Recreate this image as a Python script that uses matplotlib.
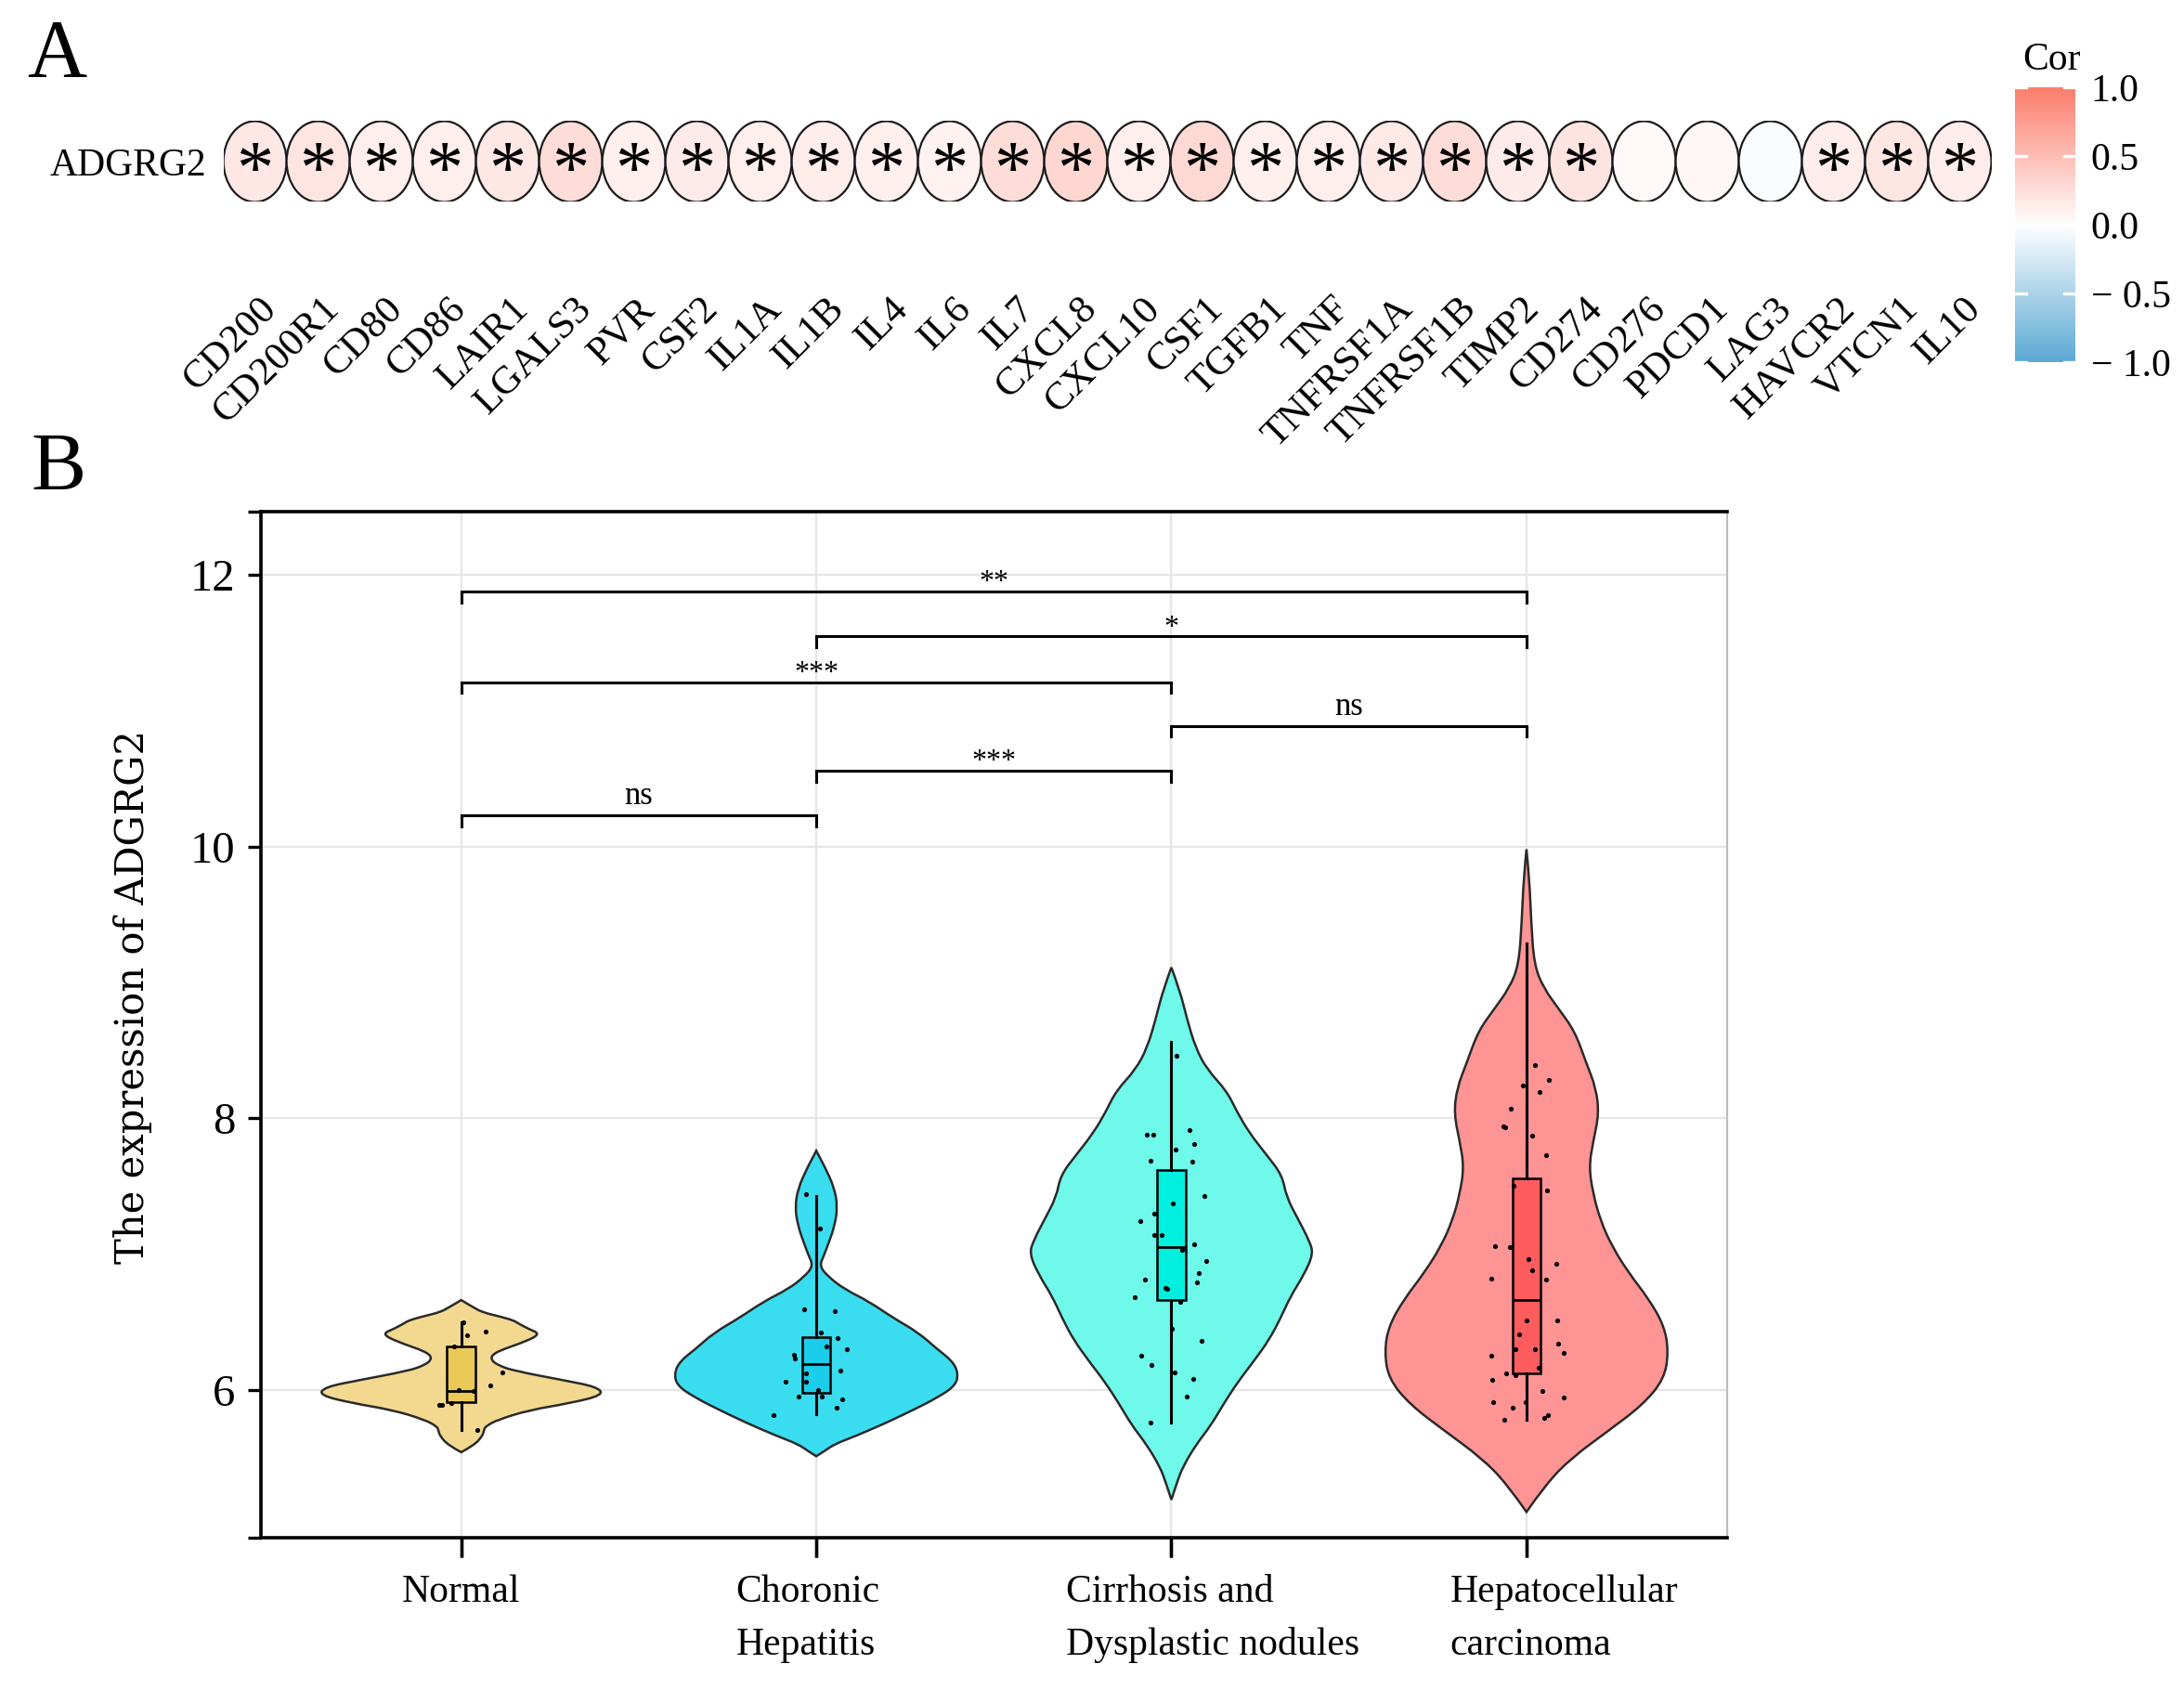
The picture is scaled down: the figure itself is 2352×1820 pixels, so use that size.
import numpy as np
import matplotlib
matplotlib.use("Agg")
import matplotlib.pyplot as plt
from matplotlib.patches import Ellipse, PathPatch
from matplotlib.path import Path
from matplotlib.colors import LinearSegmentedColormap, Normalize

# ---------------- Panel A data ----------------
genes = ["CD200", "CD200R1", "CD80", "CD86", "LAIR1", "LGALS3", "PVR", "CSF2", "IL1A",
         "IL1B", "IL4", "IL6", "IL7", "CXCL8", "CXCL10", "CSF1", "TGFB1", "TNF",
         "TNFRSF1A", "TNFRSF1B", "TIMP2", "CD274", "CD276", "PDCD1", "LAG3", "HAVCR2",
         "VTCN1", "IL10"]
cor_values = [0.18, 0.20, 0.13, 0.13, 0.18, 0.27, 0.12, 0.15, 0.13,
              0.14, 0.12, 0.10, 0.27, 0.31, 0.13, 0.29, 0.12, 0.13,
              0.17, 0.26, 0.15, 0.21, 0.04, 0.06, -0.03, 0.14,
              0.19, 0.14]
cor_signif = [True] * 22 + [False, False, False] + [True, True, True]
row_gene = "ADGRG2"
cbar_ticks = [1.0, 0.5, 0.0, -0.5, -1.0]
cbar_labels = ["1.0", "0.5", "0.0", "\u2212 0.5", "\u2212 1.0"]

# ---------------- Panel B data ----------------
group_labels = ["Normal", "Choronic\nHepatitis", "Cirrhosis and\nDysplastic nodules",
                "Hepatocellular\ncarcinoma"]

normal_dens_y = [5.54, 5.59, 5.66, 5.70, 5.73, 5.78, 5.85, 5.90, 5.96, 6.02, 6.07, 6.14,
                 6.18, 6.22, 6.26, 6.30, 6.35, 6.41, 6.45, 6.49, 6.51, 6.54, 6.57, 6.61, 6.66]
normal_dens = [0.0, 0.09, 0.15, 0.16, 0.17, 0.26, 0.48, 0.76, 1.0, 0.96, 0.72, 0.37,
               0.26, 0.21, 0.22, 0.30, 0.44, 0.56, 0.47, 0.40, 0.37, 0.27, 0.15, 0.08, 0.0]

chronic_dens_y = [5.51, 5.55, 5.60, 5.66, 5.76, 5.85, 5.94, 6.03, 6.12, 6.21, 6.30, 6.42,
                  6.53, 6.65, 6.74, 6.83, 6.91, 6.99, 7.08, 7.21, 7.35, 7.49, 7.63, 7.70, 7.76]
chronic_dens = [0.0, 0.06, 0.13, 0.28, 0.50, 0.68, 0.85, 0.98, 1.0, 0.96, 0.85, 0.72,
                0.54, 0.37, 0.20, 0.087, 0.022, 0.054, 0.087, 0.13, 0.15, 0.126, 0.065, 0.03, 0.0]

cirrhosis_dens_y = [5.19, 5.32, 5.43, 5.59, 5.74, 5.90, 6.06, 6.21, 6.37, 6.53, 6.69, 6.84,
                    7.00, 7.10, 7.26, 7.42, 7.58, 7.73, 7.89, 8.05, 8.20, 8.36, 8.52, 8.73,
                    8.94, 9.11]
cirrhosis_dens = [0.0, 0.04, 0.08, 0.17, 0.28, 0.37, 0.47, 0.58, 0.69, 0.77, 0.84, 0.93,
                  1.0, 0.97, 0.89, 0.81, 0.78, 0.67, 0.55, 0.46, 0.39, 0.25, 0.17, 0.11,
                  0.06, 0.0]

hcc_dens_y = [5.10, 5.31, 5.50, 5.70, 5.89, 6.08, 6.28, 6.47, 6.67, 6.86, 7.06, 7.25,
              7.44, 7.64, 7.83, 8.03, 8.22, 8.41, 8.64, 8.80, 8.96, 9.13, 9.45, 9.77, 9.98]
hcc_dens = [0.0, 0.14, 0.32, 0.58, 0.82, 0.97, 1.0, 0.97, 0.86, 0.72, 0.60, 0.52,
            0.47, 0.44, 0.47, 0.51, 0.49, 0.42, 0.34, 0.23, 0.12, 0.054, 0.033, 0.02, 0.0]

# box statistics: whisker low, q1, median, q3, whisker high
normal_box = [5.70, 5.91, 5.99, 6.32, 6.50]
chronic_box = [5.82, 5.98, 6.19, 6.39, 7.43]
cirrhosis_box = [5.76, 6.66, 7.05, 7.62, 8.56]
hcc_box = [5.78, 6.12, 6.66, 7.56, 9.29]

# jittered points: values and horizontal jitter
normal_pts = [6.50, 6.40, 6.43, 6.32, 6.13, 6.03, 6.00, 5.99, 5.89, 5.89, 5.90, 5.70]
normal_jit = [0.007, 0.017, 0.07, -0.019, 0.115, 0.083, -0.007, 0.035, -0.061, -0.055, -0.029, 0.045]

chronic_pts = [7.44, 7.19, 6.59, 6.58, 6.42, 6.38, 6.30, 6.32, 6.26, 6.23, 6.14, 6.12,
               6.06, 6.06, 6.00, 5.95, 5.95, 5.93, 5.87, 5.81]
chronic_jit = [-0.030, 0.010, -0.034, 0.051, 0.012, 0.061, 0.085, 0.028, -0.064, -0.061,
               0.068, -0.030, -0.087, -0.030, 0.004, -0.051, 0.015, 0.073, 0.057, -0.120]

cirrhosis_pts = [8.46, 7.88, 7.88, 7.91, 7.81, 7.77, 7.69, 7.68, 7.43, 7.37, 7.30, 7.24,
                 7.14, 7.14, 7.07, 7.03, 6.95, 6.86, 6.81, 6.79, 6.75, 6.74, 6.68, 6.65,
                 6.45, 6.36, 6.25, 6.18, 6.13, 6.08, 5.95, 5.76]
cirrhosis_jit = [0.014, -0.070, -0.050, 0.050, 0.064, 0.012, -0.059, 0.060, 0.092, 0.004,
                 -0.049, -0.088, -0.048, -0.028, 0.065, 0.031, 0.098, 0.078, -0.074, 0.072,
                 -0.017, -0.013, -0.104, 0.024, 0.001, 0.085, -0.084, -0.055, 0.008, 0.062,
                 0.043, -0.058]

hcc_pts = [8.39, 8.28, 8.24, 8.19, 8.07, 7.94, 7.93, 7.87, 7.73, 7.47, 7.50, 7.06, 7.05,
           6.96, 6.93, 6.88, 6.82, 6.81, 6.51, 6.51, 6.41, 6.34, 6.30, 6.30, 6.27, 6.25,
           6.16, 6.12, 6.11, 6.07, 5.99, 5.94, 5.91, 5.87, 5.91, 5.81, 5.79, 5.78]
hcc_jit = [0.023, 0.062, -0.010, 0.037, -0.043, -0.064, -0.061, 0.017, 0.055, 0.057, -0.037,
           -0.089, -0.048, 0.005, 0.085, 0.017, -0.099, 0.054, 0.087, 0.001, -0.020, 0.089,
           -0.031, 0.023, 0.105, -0.098, 0.033, -0.058, -0.031, -0.096, 0.045, 0.105, -0.095,
           -0.039, -0.003, 0.060, 0.051, -0.063]

# significance brackets: group a, group b, height, label
brackets = [(1, 2, 10.23, "ns"), (2, 3, 10.56, "***"), (3, 4, 10.89, "ns"),
            (1, 3, 11.21, "***"), (2, 4, 11.55, "*"), (1, 4, 11.88, "**")]

violin_fill = ["#F3D98F", "#3ADDF0", "#6EF9EA", "#FF9494"]
box_fill = ["#EBC956", "#1ACDEB", "#00F0E0", "#FF5C5E"]

SERIF = ["Liberation Serif", "DejaVu Serif"]
plt.rcParams["font.family"] = SERIF

fig = plt.figure(figsize=(11.76, 9.10), dpi=200)

# ---------------- Panel A ----------------
cmap = LinearSegmentedColormap.from_list("cor", ["#5BA9D5", "#FFFFFF", "#FB7D6C"])
norm = Normalize(-1, 1)

ax_h = fig.add_axes([0.1023, 0.8805, 0.8095, 0.0478])
ax_h.set_xlim(0.5, len(genes) + 0.5)
ax_h.set_ylim(0.5, 1.5)
for i, (g, v, s) in enumerate(zip(genes, cor_values, cor_signif), start=1):
    ax_h.add_patch(Ellipse((i, 1), 1.0, 1.0, facecolor=cmap(norm(v)),
                           edgecolor="#1a1a1a", lw=0.8))
    if s:
        ax_h.text(i, 0.62, "*", ha="center", va="baseline", fontsize=29,
                  family=SERIF)
    ax_h.text(i + 0.05, -0.60, g, rotation=45, ha="right", va="top",
              rotation_mode="anchor", fontsize=15.5, clip_on=False)
for sp in ax_h.spines.values():
    sp.set_visible(False)
ax_h.set_xticks([])
ax_h.set_yticks([1])
ax_h.set_yticklabels([row_gene], fontsize=15)
ax_h.tick_params(axis="y", length=0, pad=6.5)

# colorbar
ax_cb = fig.add_axes([0.9226, 0.7857, 0.0276, 0.1624])
grad = np.linspace(-1, 1, 256)[:, None]
ax_cb.imshow(grad, aspect="auto", cmap=cmap, norm=norm, extent=[0, 1, -1, 1],
             origin="lower")
ax_cb.set_xlim(0, 1)
ax_cb.set_ylim(-1, 1)
for t in cbar_ticks:
    ax_cb.plot([0, 0.18], [t, t], color="white", lw=1.2)
    ax_cb.plot([0.82, 1], [t, t], color="white", lw=1.2)
for sp in ax_cb.spines.values():
    sp.set_visible(False)
ax_cb.set_xticks([])
ax_cb.yaxis.tick_right()
ax_cb.set_yticks(cbar_ticks)
ax_cb.set_yticklabels(cbar_labels, fontsize=15)
ax_cb.tick_params(axis="y", length=0, pad=6)
fig.text(0.9396, 0.9646, "Cor", ha="center", va="center", fontsize=15)

fig.text(0.026, 0.967, "A", ha="center", va="center", fontsize=32)
fig.text(0.0268, 0.7225, "B", ha="center", va="center", fontsize=32)

# ---------------- Panel B ----------------
ax = fig.add_axes([0.1193, 0.0901, 0.6715, 0.6074])
ax.set_xlim(0.435, 4.565)
ax.set_ylim(4.91, 12.47)
ax.set_yticks([6, 8, 10, 12])
ax.set_xticks([1, 2, 3, 4])
ax.grid(True, color="#E6E6E6", lw=0.8, zorder=0)
ax.set_axisbelow(True)

dens_y = [normal_dens_y, chronic_dens_y, cirrhosis_dens_y, hcc_dens_y]
dens = [normal_dens, chronic_dens, cirrhosis_dens, hcc_dens]
boxes = [normal_box, chronic_box, cirrhosis_box, hcc_box]
pts = [normal_pts, chronic_pts, cirrhosis_pts, hcc_pts]
jits = [normal_jit, chronic_jit, cirrhosis_jit, hcc_jit]


def smooth_side(xs, ys):
    """Quadratic-Bezier path pieces using the points as control points."""
    verts = [(xs[0], ys[0])]
    codes = []
    n = len(xs)
    for j in range(1, n - 1):
        if j < n - 2:
            end = ((xs[j] + xs[j + 1]) / 2, (ys[j] + ys[j + 1]) / 2)
        else:
            end = (xs[j + 1], ys[j + 1])
        verts += [(xs[j], ys[j]), end]
        codes += [Path.CURVE3, Path.CURVE3]
    return verts, codes


half_width = 0.4
for k in range(4):
    pos = k + 1
    yy = np.array(dens_y[k])
    hw = half_width * np.array(dens[k])
    rv, rc = smooth_side(pos + hw, yy)
    lv, lc = smooth_side((pos - hw)[::-1], yy[::-1])
    verts = rv + lv[1:] + [rv[0]]
    codes = [Path.MOVETO] + rc + lc + [Path.CLOSEPOLY]
    ax.add_patch(PathPatch(Path(verts, codes), facecolor=violin_fill[k],
                           edgecolor="#2a2a2a", lw=0.9, zorder=2))

stats = []
for k, b in enumerate(boxes):
    stats.append(dict(whislo=b[0], q1=b[1], med=b[2], q3=b[3], whishi=b[4], fliers=[]))
bp = ax.bxp(stats, positions=[1, 2, 3, 4], widths=0.08, showcaps=False,
            showfliers=False, patch_artist=True,
            boxprops=dict(lw=0.9, edgecolor="black"),
            whiskerprops=dict(lw=1.1, color="black"),
            medianprops=dict(lw=1.0, color="black"), zorder=3)
for k, patch in enumerate(bp["boxes"]):
    patch.set_facecolor(box_fill[k])

for k in range(4):
    ax.scatter(np.array(jits[k]) + k + 1, pts[k], s=3.5, color="black", zorder=4,
               linewidths=0)

tick_h = 0.08
for a, b, y, lab in brackets:
    ax.plot([a, a, b, b], [y - tick_h, y, y, y - tick_h], color="black", lw=1.1,
            zorder=5, solid_joinstyle="miter")
    if lab == "ns":
        ax.text((a + b) / 2, y + 0.08, lab, ha="center", va="baseline", fontsize=12.5)
    else:
        ax.text((a + b) / 2, y + 0.01, lab, ha="center", va="baseline", fontsize=11.5)

for side in ["left", "bottom", "top"]:
    ax.spines[side].set_color("black")
    ax.spines[side].set_linewidth(1.3)
ax.spines["right"].set_color("#BDBDBD")
ax.spines["right"].set_linewidth(0.8)

ax.set_yticks([4.91, 12.47], minor=True)
ax.tick_params(axis="y", which="both", length=4.9, width=1.2, labelsize=17.5, pad=5)
ax.tick_params(axis="x", length=7.5, width=1.2, labelbottom=False)

label_x = [1.0, 1.773, 2.702, 3.784]
label_ha = ["center", "left", "left", "left"]
for lx, ha, lab in zip(label_x, label_ha, group_labels):
    ax.text(lx, -0.036, lab, transform=ax.get_xaxis_transform(), ha=ha, va="top",
            multialignment="left", fontsize=15, linespacing=1.6)

fig.text(0.0606, 0.41, "The expression of ADGRG2", rotation=90, ha="center",
         va="center", fontsize=15, family=["DejaVu Serif"])

fig.savefig("out.png", dpi=200)
